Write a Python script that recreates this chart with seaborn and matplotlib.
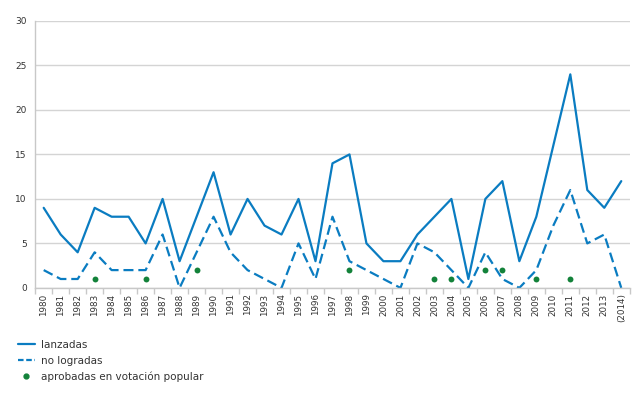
import pandas as pd
import matplotlib.pyplot as plt
import seaborn as sns
from matplotlib.lines import Line2D

years = [str(y) for y in range(1980, 2014)] + ['(2014)']
lanzadas = [9, 6, 4, 9, 8, 8, 5, 10, 3, 8, 13, 6, 10, 7, 6, 10, 3, 14, 15, 5,
            3, 3, 6, 8, 10, 1, 10, 12, 3, 8, 16, 24, 11, 9, 12]
no_logradas = [2, 1, 1, 4, 2, 2, 2, 6, 0, 4, 8, 4, 2, 1, 0, 5, 1, 8, 3, 2,
               1, 0, 5, 4, 2, 0, 4, 1, 0, 2, 7, 11, 5, 6, 0]
aprob_years = ['1983', '1986', '1989', '1998', '2003', '2004', '2006', '2007', '2009', '2011']
aprobadas = [1, 1, 2, 2, 1, 1, 2, 2, 1, 1]

blue = '#0a7cc1'
green = '#13823a'

sns.set_theme(style='white')
plt.rcParams['font.family'] = ['DejaVu Sans']

df = pd.DataFrame({'pos': range(len(years)), 'lanzadas': lanzadas, 'no_logradas': no_logradas})
pos_map = {y: i for i, y in enumerate(years)}
dots = pd.DataFrame({'pos': [pos_map[y] for y in aprob_years], 'val': aprobadas})

fig = plt.figure(figsize=(6.4, 3.96), dpi=100)
ax = fig.add_axes([0.055, 0.273, 0.929, 0.674])

sns.lineplot(data=df, x='pos', y='lanzadas', color=blue, linewidth=1.6, ax=ax)
sns.lineplot(data=df, x='pos', y='no_logradas', color=blue, linewidth=1.6, ax=ax)
ax.lines[-1].set_dashes((4.5, 2.2))
sns.scatterplot(data=dots, x='pos', y='val', color=green, s=18, linewidth=0, ax=ax, zorder=5)

ax.set_xlim(-0.5, len(years) - 0.5)
ax.set_ylim(0, 30)
ax.set_yticks(range(0, 31, 5))
ax.yaxis.grid(True, color='#d4d4d4', linewidth=1)
ax.set_axisbelow(True)
ax.set_xticks(range(len(years)))
ax.set_xticklabels(years, rotation=90, fontsize=6.3, color='#333333')
ax.set_xticks([i - 0.5 for i in range(len(years) + 1)], minor=True)
ax.tick_params(axis='x', which='major', length=0, pad=4)
ax.tick_params(axis='x', which='minor', length=4, color='#c8c8c8', width=1, bottom=True)
ax.tick_params(axis='y', length=0, labelsize=6.5, labelcolor='#333333', pad=6)
ax.set_xlabel('')
ax.set_ylabel('')
for s in ['top', 'right']:
    ax.spines[s].set_visible(False)
for s in ['left', 'bottom']:
    ax.spines[s].set_color('#c8c8c8')
    ax.spines[s].set_linewidth(1)

handles = [
    Line2D([], [], color=blue, linewidth=1.6),
    Line2D([], [], color=blue, linewidth=1.6, dashes=(2.5, 1.2)),
    Line2D([], [], color=green, marker='o', markersize=3.5, linestyle='none'),
]
labels = ['lanzadas', 'no logradas', 'aprobadas en votación popular']
fig.legend(handles, labels, loc='upper left', bbox_to_anchor=(0.02, 0.155),
           frameon=False, fontsize=7.5, handlelength=1.6, labelspacing=0.55,
           handletextpad=0.6, borderpad=0, labelcolor='#333333')

plt.savefig('out.png', dpi=100)
plt.close()
